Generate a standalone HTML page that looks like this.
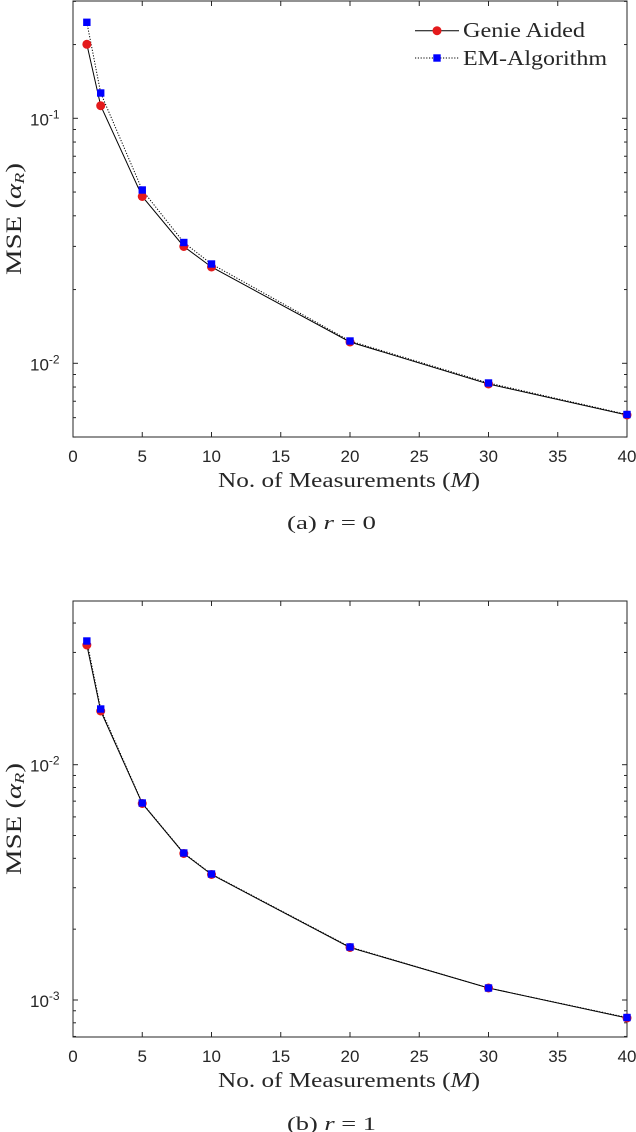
<!DOCTYPE html>
<html><head><meta charset="utf-8"><style>
html,body{margin:0;padding:0;background:#fff;}
svg{display:block;}
.tk{font-family:"Liberation Sans",sans-serif;font-size:17px;fill:#262626;}
.sr{font-family:"Liberation Serif",serif;fill:#262626;}
</style></head><body>
<svg id="s" width="636" height="1132" xmlns="http://www.w3.org/2000/svg"></svg>
<script>
const s=document.getElementById('s');let h='';
const L=73,R=627;
const X=m=>L+m*(R-L)/40;
function plot(top,bot,yRef,logRef,D,gen,em,legend,cap,capY,lblY,tkY){
  const Y=v=>yRef+(logRef-Math.log10(v))*D;
  h+=`<rect x="${L}" y="${top}" width="${R-L}" height="${bot-top}" fill="none" stroke="#262626" stroke-width="1"/>`;
  for(let m=0;m<=40;m+=5){const x=X(m);
    h+=`<line x1="${x}" y1="${bot}" x2="${x}" y2="${bot-5}" stroke="#262626"/><line x1="${x}" y1="${top}" x2="${x}" y2="${top+5}" stroke="#262626"/>`;
    h+=`<text class="tk" x="${x}" y="${tkY}" text-anchor="middle">${m}</text>`;}
  for(let e=-4;e<=0;e++){for(let k=1;k<10;k++){const v=k*Math.pow(10,e);const y=Y(v);
    if(y<top-0.5||y>bot+0.5)continue;const len=k==1?5:3;
    h+=`<line x1="${L}" y1="${y}" x2="${L+len}" y2="${y}" stroke="#262626"/><line x1="${R}" y1="${y}" x2="${R-len}" y2="${y}" stroke="#262626"/>`;
    if(k==1)h+=`<text class="tk" x="${L-43}" y="${y+7}">10<tspan dy="-7" font-size="12">${e}</tspan></text>`;}}
  let p1=gen.map(([m,y])=>X(m)+','+y).join(' ');
  let p2=em.map(([m,y])=>X(m)+','+y).join(' ');
  h+=`<polyline points="${p2}" fill="none" stroke="#000" stroke-width="1" stroke-dasharray="1.2,1.6"/>`;
  h+=`<polyline points="${p1}" fill="none" stroke="#000" stroke-width="1"/>`;
  gen.forEach(([m,y])=>h+=`<circle cx="${X(m)}" cy="${y}" r="4.5" fill="#e41a1c"/>`);
  em.forEach(([m,y])=>h+=`<rect x="${X(m)-3.7}" y="${y-3.7}" width="7.4" height="7.4" fill="#0000ff"/>`);
  const cy=(top+bot)/2;
  h+=`<text class="sr" font-size="22" transform="translate(21,${cy+56}) rotate(-90)" textLength="112" lengthAdjust="spacingAndGlyphs">MSE (<tspan font-style="italic">α</tspan><tspan font-size="14" dy="3" font-style="italic">R</tspan><tspan dy="-3">)</tspan></text>`;
  h+=`<text class="sr" font-size="21" x="218" y="${lblY}" textLength="262" lengthAdjust="spacingAndGlyphs">No. of Measurements (<tspan font-style="italic">M</tspan>)</text>`;
  h+=`<text class="sr" font-size="19" x="287" y="${capY}" textLength="89" lengthAdjust="spacingAndGlyphs">${cap}  <tspan font-style="italic">r</tspan> = ${cap=='(a)'?0:1}</text>`;
  if(legend){
    h+=`<line x1="415" y1="30.7" x2="459" y2="30.7" stroke="#000"/><circle cx="437" cy="30.7" r="4.5" fill="#e41a1c"/>`;
    h+=`<text class="sr" font-size="21" x="463" y="37" textLength="122" lengthAdjust="spacingAndGlyphs">Genie Aided</text>`;
    h+=`<line x1="415" y1="58" x2="459" y2="58" stroke="#000" stroke-dasharray="1.2,1.6"/><rect x="433.3" y="54.3" width="7.4" height="7.4" fill="#0000ff"/>`;
    h+=`<text class="sr" font-size="21" x="463" y="65" textLength="144" lengthAdjust="spacingAndGlyphs">EM-Algorithm</text>`;
  }
}
plot(1,437,118.3,-1,245,
 [[1,44.3],[2,105.7],[5,196.5],[8,246.5],[10,267],[20,342],[30,384],[40,415]],
 [[1,22.3],[2,93],[5,190],[8,242.5],[10,264],[20,341],[30,383],[40,414.5]],
 true,'(a)',529,487,462);
plot(601,1037,764.7,-2,235.3,
 [[1,645],[2,711],[5,803.5],[8,853.5],[10,874.5],[20,947.5],[30,988],[40,1018]],
 [[1,641],[2,709],[5,803],[8,853],[10,874],[20,947],[30,988],[40,1017.5]],
 false,'(b)',1130,1087,1062);
s.innerHTML=h;
</script>
</body></html>
